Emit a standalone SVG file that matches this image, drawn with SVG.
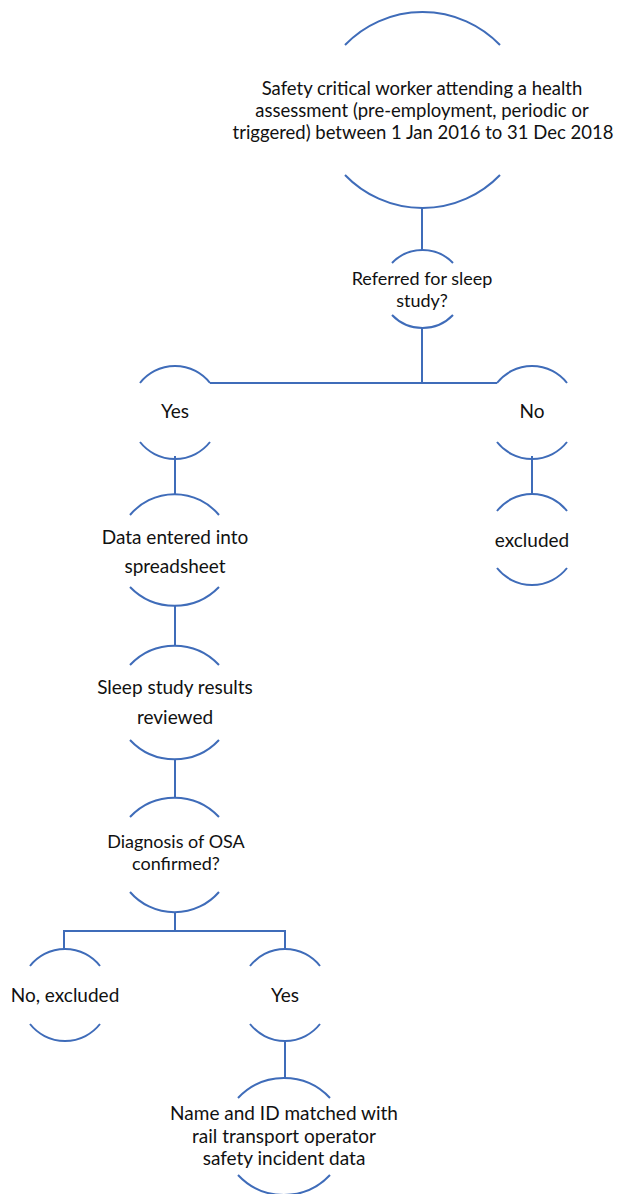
<svg xmlns="http://www.w3.org/2000/svg" width="619" height="1194" viewBox="0 0 619 1194">
<style>
.arc{fill:none;stroke:#3f6cb9;stroke-width:2}
.con{fill:none;stroke:#3f6cb9;stroke-width:2}
text{font-family:Lato,"Liberation Sans",sans-serif;font-size:19px;fill:#111111;text-anchor:middle}
.top{font-size:18.5px}
.tight{font-size:18px}
</style>
<rect width="619" height="1194" fill="#ffffff"/>
<g id="connectors">
<path class="con" d="M422 207V250"/>
<path class="con" d="M422 328V383M210 383H497"/>
<path class="con" d="M175 456V494"/>
<path class="con" d="M532 456V494"/>
<path class="con" d="M175 605V646"/>
<path class="con" d="M175 759V797"/>
<path class="con" d="M175 912V931M64 949V931H285V949"/>
<path class="con" d="M285 1042V1078"/>
</g>
<g id="n-start">
<path class="arc" d="M345 45A107.5 107.5 0 0 1 500 45"/>
<path class="arc" d="M345 175A107.5 107.5 0 0 0 500 175"/>
<text class="top" x="422" y="95">Safety critical worker attending a health</text>
<text class="top" x="422" y="117">assessment (pre-employment, periodic or</text>
<text class="top" x="423" y="139">triggered) between 1 Jan 2016 to 31 Dec 2018</text>
</g>
<g id="n-referred">
<path class="arc" d="M392 263A42.3 42.3 0 0 1 453 263"/>
<path class="arc" d="M392 315A42.3 42.3 0 0 0 453 315"/>
<text class="tight" x="422" y="285">Referred for sleep</text>
<text class="tight" x="422" y="307">study?</text>
</g>
<g id="n-yes1">
<path class="arc" d="M140 383A44.5 44.5 0 0 1 210 383"/>
<path class="arc" d="M140 442A44.5 44.5 0 0 0 210 442"/>
<text x="175" y="418">Yes</text>
</g>
<g id="n-no1">
<path class="arc" d="M497 383A44.5 44.5 0 0 1 567 383"/>
<path class="arc" d="M497 442A44.5 44.5 0 0 0 567 442"/>
<text x="532" y="418">No</text>
</g>
<g id="n-excluded">
<path class="arc" d="M497 511A44.5 44.5 0 0 1 567 511"/>
<path class="arc" d="M497 568A44.5 44.5 0 0 0 567 568"/>
<text x="532" y="547">excluded</text>
</g>
<g id="n-data">
<path class="arc" d="M130 515A58 58 0 0 1 219 515"/>
<path class="arc" d="M130 587A62 62 0 0 0 219 587"/>
<text x="175" y="544">Data entered into</text>
<text x="175" y="573">spreadsheet</text>
</g>
<g id="n-sleep">
<path class="arc" d="M130 665A61 61 0 0 1 219 665"/>
<path class="arc" d="M130 740A61 61 0 0 0 219 740"/>
<text x="175" y="694">Sleep study results</text>
<text x="175" y="724">reviewed</text>
</g>
<g id="n-diagnosis">
<path class="arc" d="M130 817A61 61 0 0 1 219 817"/>
<path class="arc" d="M130 892A59 59 0 0 0 219 892"/>
<text class="tight" x="176" y="848">Diagnosis of OSA</text>
<text class="tight" x="176" y="870">confirmed?</text>
</g>
<g id="n-no2">
<path class="arc" d="M30 966A44.5 44.5 0 0 1 100 966"/>
<path class="arc" d="M30 1024A44.5 44.5 0 0 0 100 1024"/>
<text x="65" y="1002">No, excluded</text>
</g>
<g id="n-yes2">
<path class="arc" d="M250 966A44.5 44.5 0 0 1 320 966"/>
<path class="arc" d="M250 1024A44.5 44.5 0 0 0 320 1024"/>
<text x="285" y="1002">Yes</text>
</g>
<g id="n-name">
<path class="arc" d="M238 1098A63 63 0 0 1 330 1098"/>
<path class="arc" d="M238 1175A63 63 0 0 0 330 1175"/>
<text x="284" y="1120">Name and ID matched with</text>
<text x="284" y="1143">rail transport operator</text>
<text x="284" y="1165">safety incident data</text>
</g>
</svg>
